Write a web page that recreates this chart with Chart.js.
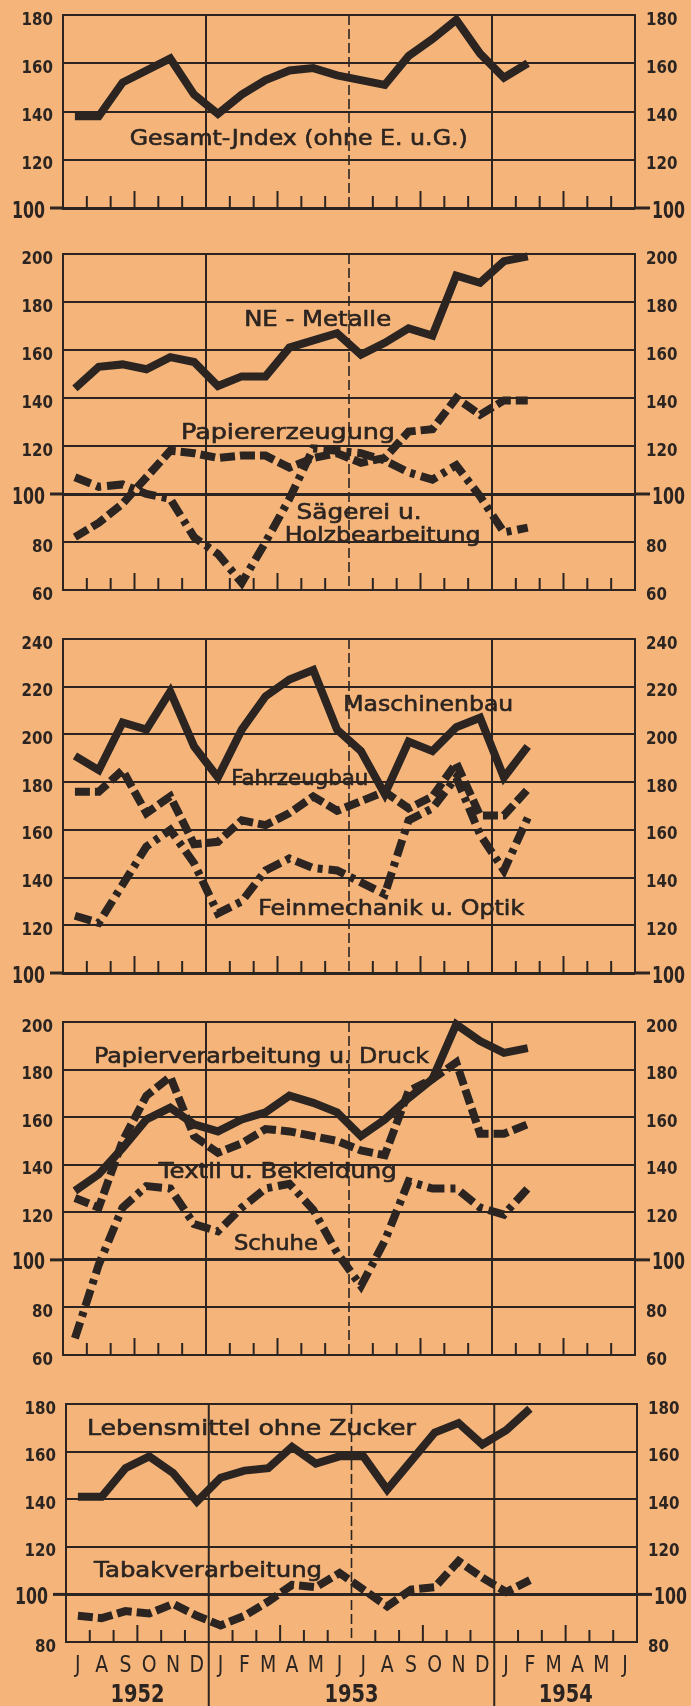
<!DOCTYPE html>
<html>
<head>
<meta charset="utf-8">
<script src="https://cdn.jsdelivr.net/npm/chart.js@4.4.1/dist/chart.umd.min.js"></script>
<style>
  html, body { margin: 0; padding: 0; background: #f5b57a; }
  #wrap { position: relative; width: 691px; height: 1706px; overflow: hidden; }
  #wrap canvas { position: absolute; left: 0; }
</style>
</head>
<body>
<div id="wrap"></div>
<script>
// ── Daten (Index, Juli 1952 – Februar 1954) ─────────────────────────────────

const MONTHS = ['J','A','S','O','N','D','J','F','M','A','M','J','J','A','S','O','N','D','J','F','M','A','M','J'];
const YEARS  = ['1952', '1953', '1954'];

const gesamt        = [138,138,152,157,162,147,139,147,153,157,158,155,153,151,163,170,178,164,154,160];

const neMetalle     = [144,153,154,152,157,155,145,149,149,161,164,167,158,163,169,166,191,188,197,199];
const papiererz     = [82,88,96,107,118,117,115,116,116,111,115,117,113,115,126,127,140,133,139,139];
const saegerei      = [107,103,104,100,98,82,75,63,80,98,119,118,117,114,109,106,112,99,84,86];

const maschinenbau  = [191,185,205,202,218,195,182,202,216,223,227,202,193,175,197,193,203,207,182,195];
const fahrzeugbau   = [176,176,185,167,174,154,155,164,162,167,174,168,172,176,169,174,188,166,166,177];
const feinmechanik  = [124,121,137,153,160,146,125,130,143,148,144,143,138,133,164,169,182,158,143,165];

const papierverarb  = [129,136,147,159,164,157,154,159,162,169,166,162,152,159,168,176,199,192,187,189];
const textil        = [126,122,150,169,177,152,145,149,155,154,152,150,146,144,171,176,183,153,153,157];
const schuhe        = [67,98,122,131,130,115,112,122,130,132,121,103,89,108,133,130,130,122,119,130];

const lebensmittel  = [141,141,153,158,151,139,149,152,153,162,155,158,158,144,156,168,172,163,169,178];
const tabak         = [91,90,93,92,96,91,87,91,97,104,103,109,102,95,102,103,114,107,101,106];

// ── Stil ────────────────────────────────────────────────────────────────────

const INK  = '#2b2421';
const FONT = '"DejaVu Sans", sans-serif';
const DASH = { solid: [], dashed: [15, 5], dashdot: [17, 6, 5, 6] };
const YEAR_SPANS = [[0, 6], [6, 18], [18, 24]];

// Rahmen der Einzeldiagramme (Pixel) und Beschriftungen (in Datenkoordinaten)
const PANELS = [
  { top: 15, bottom: 208, left: 63, right: 635, min: 100, max: 180,
    series: [[gesamt, 'solid']],
    labels: [{ t: 'Gesamt-Jndex (ohne E. u.G.)', x: 2.8, y: 129.5, w: 338 }] },
  { top: 254, bottom: 590, left: 63, right: 635, min: 60, max: 200,
    series: [[neMetalle, 'solid'], [papiererz, 'dashed'], [saegerei, 'dashdot']],
    labels: [
      { t: 'NE - Metalle',     x: 7.6,  y: 173.2, w: 147 },
      { t: 'Papiererzeugung',  x: 4.95, y: 126.3, w: 214 },
      { t: 'Sägerei u.',       x: 9.8,  y: 92.9,  w: 125 },
      { t: 'Holzbearbeitung',  x: 9.3,  y: 83.3,  w: 196 },
    ] },
  { top: 639, bottom: 973, left: 63, right: 635, min: 100, max: 240,
    series: [[maschinenbau, 'solid'], [fahrzeugbau, 'dashed'], [feinmechanik, 'dashdot']],
    labels: [
      { t: 'Maschinenbau',          x: 11.76, y: 213,   w: 170 },
      { t: 'Fahrzeugbau',           x: 7.06,  y: 182.2, w: 137 },
      { t: 'Feinmechanik u. Optik', x: 8.19,  y: 127.7, w: 266 },
    ] },
  { top: 1022, bottom: 1355, left: 63, right: 635, min: 60, max: 200,
    series: [[papierverarb, 'solid'], [textil, 'dashed'], [schuhe, 'dashdot']],
    labels: [
      { t: 'Papierverarbeitung u. Druck', x: 1.3,  y: 186,   w: 335 },
      { t: 'Textil u. Bekleidung',        x: 4.02, y: 137.7, w: 238 },
      { t: 'Schuhe',                      x: 7.17, y: 107.6, w: 84 },
    ] },
  { top: 1404, bottom: 1642, left: 66, right: 637, min: 80, max: 180, months: true,
    series: [[lebensmittel, 'solid'], [tabak, 'dashed']],
    labels: [
      { t: 'Lebensmittel ohne Zucker', x: 0.88, y: 170.3, w: 329 },
      { t: 'Tabakverarbeitung',        x: 1.18, y: 110.8, w: 228 },
    ] },
];

// ── Hilfsfunktionen ─────────────────────────────────────────────────────────

function line(ctx, x1, y1, x2, y2) {
  ctx.beginPath(); ctx.moveTo(x1, y1); ctx.lineTo(x2, y2); ctx.stroke();
}

// Text horizontal auf Zielbreite w (oder Faktor sx) stauchen
function fitText(ctx, text, x, y, font, align, w, sx, heavy) {
  ctx.font = font;
  const mw = ctx.measureText(text).width;
  const k  = w ? w / mw : (sx || 1);
  ctx.save();
  ctx.translate(x, y);
  ctx.scale(k, 1);
  ctx.textAlign = align;
  ctx.textBaseline = 'alphabetic';
  ctx.fillText(text, 0, 0);
  if (heavy) {
    ctx.strokeStyle = ctx.fillStyle;
    ctx.lineWidth = heavy;
    ctx.strokeText(text, 0, 0);
  }
  ctx.restore();
}

const panelDecor = {
  id: 'panelDecor',
  beforeDatasetsDraw(chart, args, opts) {
    const { ctx, chartArea: a, scales: { x, y } } = chart;
    ctx.save();
    ctx.strokeStyle = INK;
    ctx.lineWidth = 2;
    line(ctx, a.right, a.top - 1, a.right, a.bottom + 1);

    // Halbjahres-Trennlinien
    [6, 18].forEach(m => {
      const px = x.getPixelForValue(m);
      line(ctx, px, a.top, px, opts.months ? chart.height : a.bottom);
    });
    ctx.lineWidth = 1.6;
    ctx.setLineDash([10, 4]);
    const mid = x.getPixelForValue(12);
    line(ctx, mid, a.top, mid, a.bottom);
    ctx.setLineDash([]);

    // Monatsstriche
    ctx.lineWidth = 2;
    for (let m = 1; m < 24; m++) {
      if (m % 6 === 0) continue;
      const px = x.getPixelForValue(m);
      line(ctx, px, a.bottom, px, a.bottom - (m % 3 === 0 ? 17 : 12));
    }

    // verlängerte 100-Linie
    if (y.min <= 100 && y.max >= 100) {
      const py = y.getPixelForValue(100);
      ctx.lineWidth = 3;
      line(ctx, a.left - 13, py, a.left, py);
      line(ctx, a.right, py, a.right + 15, py);
    }
    ctx.restore();
  },
  afterDatasetsDraw(chart, args, opts) {
    const { ctx, chartArea: a, scales: { x, y } } = chart;
    ctx.save();
    ctx.fillStyle = INK;

    // Achsenbeschriftung links und rechts
    y.ticks.forEach(t => {
      const py = y.getPixelForValue(t.value);
      const s  = String(t.value);
      if (t.value === 100) {
        fitText(ctx, s, a.left - 18, py + 9.5, `bold 23px ${FONT}`, 'right', 33);
        fitText(ctx, s, a.right + 17, py + 9.5, `bold 23px ${FONT}`, 'left', 33);
      } else {
        fitText(ctx, s, a.left - 10, py + 9.5, `bold 17.5px ${FONT}`, 'right', null, 0.86);
        fitText(ctx, s, a.right + 11, py + 9.5, `bold 17.5px ${FONT}`, 'left', null, 0.86);
      }
    });

    // Reihenbeschriftungen
    (opts.labels || []).forEach(l => {
      fitText(ctx, l.t, x.getPixelForValue(l.x), y.getPixelForValue(l.y) + 8, `21px ${FONT}`, 'left', l.w, null, 0.6);
    });

    // Monate und Jahre
    if (opts.months) {
      MONTHS.forEach((m, i) => {
        fitText(ctx, m, x.getPixelForValue(i + 0.5), a.bottom + 30, `23px ${FONT}`, 'center', null, 0.82);
      });
      YEARS.forEach((yr, i) => {
        const [s, e] = YEAR_SPANS[i];
        fitText(ctx, yr, x.getPixelForValue((s + e) / 2), a.bottom + 60, `bold 25px ${FONT}`, 'center', 54);
      });
    }
    ctx.restore();
  },
};

// ── Aufbau ──────────────────────────────────────────────────────────────────

const wrap = document.getElementById('wrap');

PANELS.forEach((p, idx) => {
  const cTop    = p.top - 16;
  const cBottom = idx === PANELS.length - 1 ? 1706 : p.bottom + 22;
  const canvas  = document.createElement('canvas');
  canvas.width  = 691;
  canvas.height = cBottom - cTop;
  canvas.style.top = cTop + 'px';
  wrap.appendChild(canvas);

  const datasets = p.series.map(([vals, style]) => ({
    data: vals.map((v, i) => ({ x: i + 0.5, y: v })),
    borderColor: INK,
    borderWidth: 8,
    borderDash: DASH[style],
    borderJoinStyle: 'miter',
    borderCapStyle: 'butt',
    pointRadius: 0,
    tension: 0,
    clip: false,
  }));

  new Chart(canvas.getContext('2d'), {
    type: 'line',
    data: { datasets },
    options: {
      responsive: false,
      animation: false,
      devicePixelRatio: 1,
      layout: { padding: { left: p.left, right: 691 - p.right, top: p.top - cTop, bottom: cBottom - p.bottom } },
      plugins: {
        legend:  { display: false },
        tooltip: { enabled: false },
        panelDecor: { labels: p.labels, months: !!p.months },
      },
      scales: {
        x: { type: 'linear', min: 0, max: 24, display: false },
        y: {
          min: p.min, max: p.max,
          ticks: { display: false, stepSize: 20 },
          grid:  { color: INK, lineWidth: c => (c.tick && c.tick.value === 100 ? 3 : 2), drawTicks: false },
          border: { display: true, color: INK, width: 2 },
          afterFit: s => { s.width = 0; },
        },
      },
    },
    plugins: [panelDecor],
  });
});
</script>
</body>
</html>
